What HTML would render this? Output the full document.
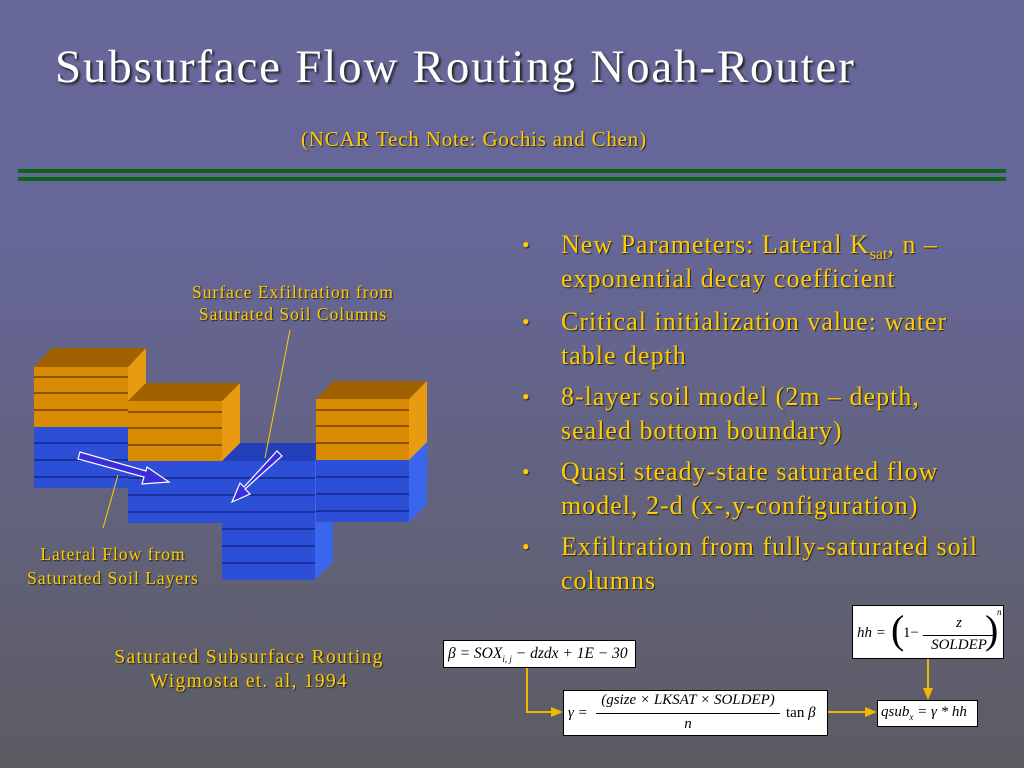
<!DOCTYPE html>
<html><head><meta charset="utf-8"><style>
html,body{margin:0;padding:0}
body{width:1024px;height:768px;overflow:hidden;position:relative;font-family:"Liberation Serif",serif;
background:linear-gradient(180deg,#676799 0%,#666699 30%,#62627e 65%,#5c5c62 100%)}
.t{position:absolute;white-space:nowrap}
.y{color:#ffcc00;text-shadow:1px 1px 1px #222}
.title{left:55px;top:40px;font-size:47px;letter-spacing:1.8px;color:#fff;text-shadow:2px 2px 2px #222}
.b{position:absolute;left:522px;font-size:26px;letter-spacing:1px;color:#ffcc00;text-shadow:1px 1px 1px #222;line-height:34px}
.b span.d{position:absolute;left:0;letter-spacing:0;font-size:22px}
.b div{margin-left:39px}
.b sub{line-height:0;font-size:16px;letter-spacing:0}
.box{position:absolute;background:#fff;border:1px solid #000;font-family:"Liberation Serif",serif;font-style:italic;color:#000;white-space:nowrap;box-sizing:border-box}
</style></head><body>
<div class="t title">Subsurface Flow Routing Noah-Router</div>
<div class="t y" style="left:301px;top:127px;font-size:21px;letter-spacing:0.8px">(NCAR Tech Note: Gochis and Chen)</div>
<div style="position:absolute;left:18px;top:169px;width:988px;height:4px;background:#0a6414"></div>
<div style="position:absolute;left:18px;top:177px;width:988px;height:4px;background:#0a6414"></div>

<div class="b" style="top:228px;width:480px"><span class="d">•</span><div>New Parameters: Lateral K<sub>sat</sub>, n –<br>exponential decay coefficient</div></div>
<div class="b" style="top:305px;width:480px"><span class="d">•</span><div>Critical initialization value: water<br>table depth</div></div>
<div class="b" style="top:380px;width:480px"><span class="d">•</span><div>8-layer soil model (2m – depth,<br>sealed bottom boundary)</div></div>
<div class="b" style="top:455px;width:480px"><span class="d">•</span><div>Quasi steady-state saturated flow<br>model, 2-d (x-,y-configuration)</div></div>
<div class="b" style="top:530px;width:480px"><span class="d">•</span><div>Exfiltration from fully-saturated soil<br>columns</div></div>

<div class="t y" style="left:180px;top:281px;font-size:17.5px;letter-spacing:1px;text-align:center;line-height:22px;width:226px">Surface Exfiltration from<br>Saturated Soil Columns</div>
<div class="t y" style="left:10px;top:542px;font-size:17.5px;letter-spacing:1px;text-align:center;line-height:24px;width:206px">Lateral Flow from<br>Saturated Soil Layers</div>
<div class="t y" style="left:90px;top:646px;font-size:19.5px;letter-spacing:1.3px;text-align:center;line-height:24px;width:318px">Saturated Subsurface Routing<br>Wigmosta et. al, 1994</div>

<svg width="1024" height="768" style="position:absolute;left:0;top:0">
<polygon points="34,367 52,348 146,348 128,367" fill="#a06200"/>
<polygon points="128,367 146,348 146,470 128,488" fill="#2a55dd"/>
<polygon points="128,367 146,348 146,409 128,427" fill="#e89a10"/>
<rect x="34" y="367" width="94" height="60" fill="#d88a00"/>
<rect x="34" y="427" width="94" height="61" fill="#2d4fd6"/>
<g stroke="#8a5200" stroke-width="2"><line x1="34" y1="377" x2="128" y2="377"/><line x1="34" y1="393" x2="128" y2="393"/><line x1="34" y1="410" x2="128" y2="410"/></g>
<g stroke="#1c2fa0" stroke-width="2"><line x1="34" y1="443" x2="128" y2="443"/><line x1="34" y1="460" x2="128" y2="460"/><line x1="34" y1="477" x2="128" y2="477"/></g>
<polygon points="222,461 240,443 333,443 315,461" fill="#2440b8"/>
<polygon points="315,461 333,443 333,562 315,580" fill="#3a66ee"/>
<rect x="222" y="461" width="93" height="119" fill="#2d4fd6"/>
<g stroke="#1c2fa0" stroke-width="2"><line x1="222" y1="478" x2="315" y2="478"/><line x1="222" y1="495" x2="315" y2="495"/><line x1="222" y1="512" x2="315" y2="512"/><line x1="222" y1="529" x2="315" y2="529"/><line x1="222" y1="546" x2="315" y2="546"/><line x1="222" y1="563" x2="315" y2="563"/></g>
<polygon points="128,401 146,383 240,383 222,401" fill="#a06200"/>
<polygon points="222,401 240,383 240,443 222,461" fill="#e89a10"/>
<rect x="128" y="401" width="94" height="60" fill="#d88a00"/>
<rect x="128" y="461" width="94" height="62" fill="#2d4fd6"/>
<g stroke="#8a5200" stroke-width="2"><line x1="128" y1="412" x2="222" y2="412"/><line x1="128" y1="428" x2="222" y2="428"/><line x1="128" y1="445" x2="222" y2="445"/></g>
<g stroke="#1c2fa0" stroke-width="2"><line x1="128" y1="478" x2="222" y2="478"/><line x1="128" y1="495" x2="222" y2="495"/><line x1="128" y1="512" x2="222" y2="512"/></g>
<polygon points="316,399 334,381 427,381 409,399" fill="#a06200"/>
<polygon points="409,399 427,381 427,504 409,522" fill="#3a66ee"/>
<polygon points="409,399 427,381 427,442 409,460" fill="#e89a10"/>
<rect x="316" y="399" width="93" height="61" fill="#d88a00"/>
<rect x="316" y="460" width="93" height="62" fill="#2d4fd6"/>
<g stroke="#8a5200" stroke-width="2"><line x1="316" y1="410" x2="409" y2="410"/><line x1="316" y1="426" x2="409" y2="426"/><line x1="316" y1="443" x2="409" y2="443"/></g>
<g stroke="#1c2fa0" stroke-width="2"><line x1="316" y1="477" x2="409" y2="477"/><line x1="316" y1="494" x2="409" y2="494"/><line x1="316" y1="511" x2="409" y2="511"/></g>
<polygon points="80,452 78,459 144,477 142,484 169,482 147,467 146,471" fill="#3a2ed8" stroke="#fff" stroke-width="1.2"/>
<polygon points="277,451 282,456 245,489 250,494 232,502 240,483 244,487" fill="#3a2ed8" stroke="#fff" stroke-width="1.2"/>
<line x1="290" y1="330" x2="265" y2="458" stroke="#ffcc00" stroke-width="1"/>
<line x1="118" y1="475" x2="103" y2="528" stroke="#ffcc00" stroke-width="1"/>
<g stroke="#f0b800" stroke-width="2" fill="none"><polyline points="527,667 527,712 552,712"/><line x1="827" y1="712" x2="866" y2="712"/><line x1="928" y1="658" x2="928" y2="690"/></g>
<g fill="#f0b800"><polygon points="563,712 551,707 551,717"/><polygon points="877,712 865,707 865,717"/><polygon points="928,700 923,688 933,688"/></g>
</svg>

<div class="box" style="left:443px;top:640px;width:193px;height:28px;font-size:15.5px;padding:4px 0 0 4px">β = SOX<sub style="font-size:9px">i, j</sub> − dzdx + 1E − 30</div>
<div class="box" style="left:563px;top:690px;width:265px;height:46px;font-size:15px">
<span style="position:absolute;left:4px;top:14px">γ =</span>
<span style="position:absolute;left:30px;top:1px;width:188px;text-align:center">(gsize × LKSAT × SOLDEP)</span>
<span style="position:absolute;left:32px;top:22px;width:184px;height:1px;background:#000"></span>
<span style="position:absolute;left:30px;top:25px;width:188px;text-align:center">n</span>
<span style="position:absolute;left:222px;top:14px;font-style:normal">tan <i>β</i></span></div>
<div class="box" style="left:877px;top:700px;width:101px;height:27px;font-size:15px;padding:3px 0 0 3px">qsub<sub style="font-size:9px">x</sub> = γ * hh</div>
<div class="box" style="left:852px;top:605px;width:152px;height:54px;font-size:15px">
<span style="position:absolute;left:4px;top:19px">hh =</span>
<span style="position:absolute;left:38px;top:4px;font-size:40px;font-style:normal;font-weight:100;line-height:40px">(</span>
<span style="position:absolute;left:50px;top:19px;font-style:normal">1−</span>
<span style="position:absolute;left:68px;top:9px;width:76px;text-align:center">z</span>
<span style="position:absolute;left:70px;top:29px;width:70px;height:1px;background:#000"></span>
<span style="position:absolute;left:68px;top:31px;width:76px;text-align:center">SOLDEP</span>
<span style="position:absolute;left:132px;top:4px;font-size:40px;font-style:normal;line-height:40px">)</span>
<span style="position:absolute;left:144px;top:1px;font-size:9px">n</span></div>
</body></html>
